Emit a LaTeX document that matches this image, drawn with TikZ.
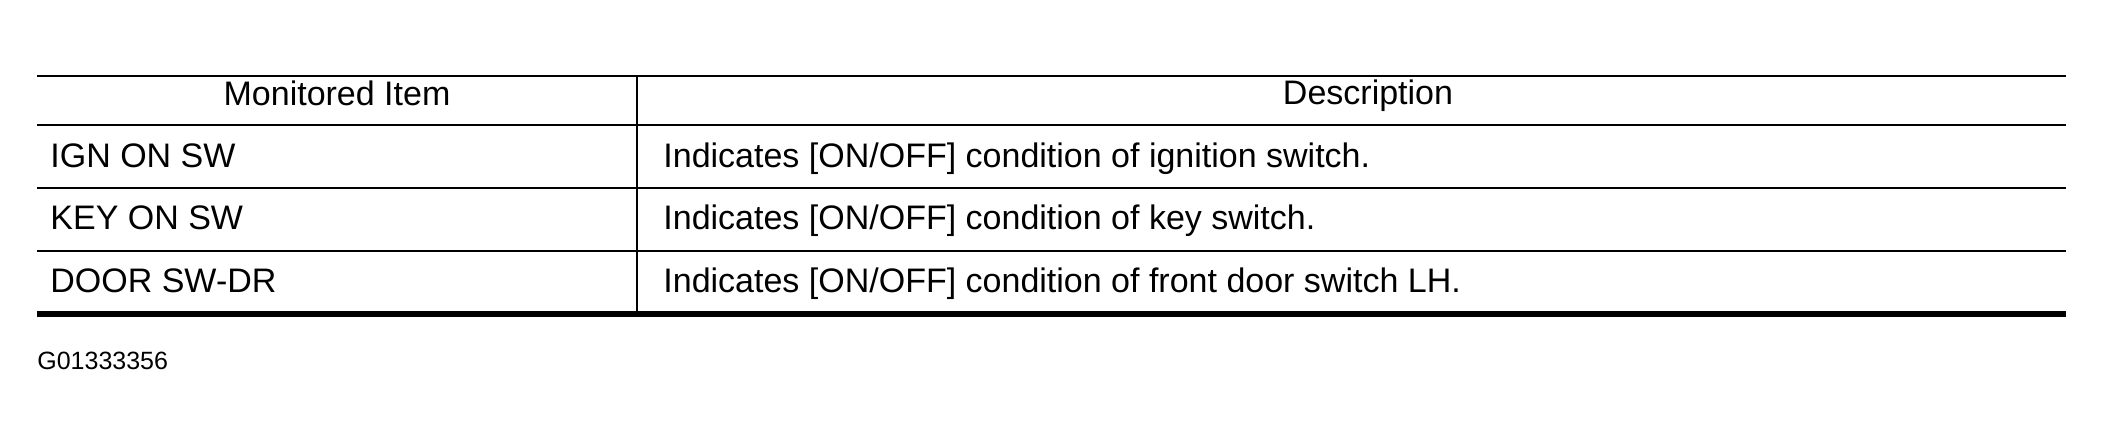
\documentclass[tikz,border=0pt]{standalone}
\usepackage{fontspec}
\setmainfont{Liberation Sans}
\usetikzlibrary{positioning}

\begin{document}
\begin{tikzpicture}[
		x=0.5pt, y=-0.5pt,
		cell/.style={anchor=base west, inner sep=0pt, font=\fontsize{17}{20}\selectfont},
		head/.style={anchor=base, inner sep=0pt, font=\fontsize{17}{20}\selectfont},
		rule/.style={line width=1.1pt},
		botrule/.style={line width=2.8pt}
	]
	\useasboundingbox (0,0) rectangle (2103,436);

	% table frame
	\coordinate (tl) at (37,76);
	\coordinate (tr) at (2066,76);
	\coordinate (bl) at (37,314);
	\coordinate (br) at (2066,314);
	\draw[rule] (tl) -- (tr);
	\draw[rule] (37,125) -- (2066,125);
	\draw[rule] (37,188) -- (2066,188);
	\draw[rule] (37,251) -- (2066,251);
	\draw[botrule] (bl) -- (br);
	\draw[rule] (637,76) -- (637,314);

	% header
	\node[head] (hitem) at (337,105) {Monitored Item};
	\node[head] (hdesc) at (1368,104) {Description};

	% rows
	\node[cell] (ign) at (50,167) {IGN ON SW};
	\node[cell] (ignd) at (663,167) {Indicates [ON/OFF] condition of ignition switch.};
	\node[cell] (key) at (50,229) {KEY ON SW};
	\node[cell] (keyd) at (663,229) {Indicates [ON/OFF] condition of key switch.};
	\node[cell] (door) at (50,292) {DOOR SW-DR};
	\node[cell] (doord) at (663,292) {Indicates [ON/OFF] condition of front door switch LH.};

	\node[cell, font=\fontsize{12.5}{14}\selectfont] (fig) at (37,369) {G01333356};
\end{tikzpicture}
\end{document}
